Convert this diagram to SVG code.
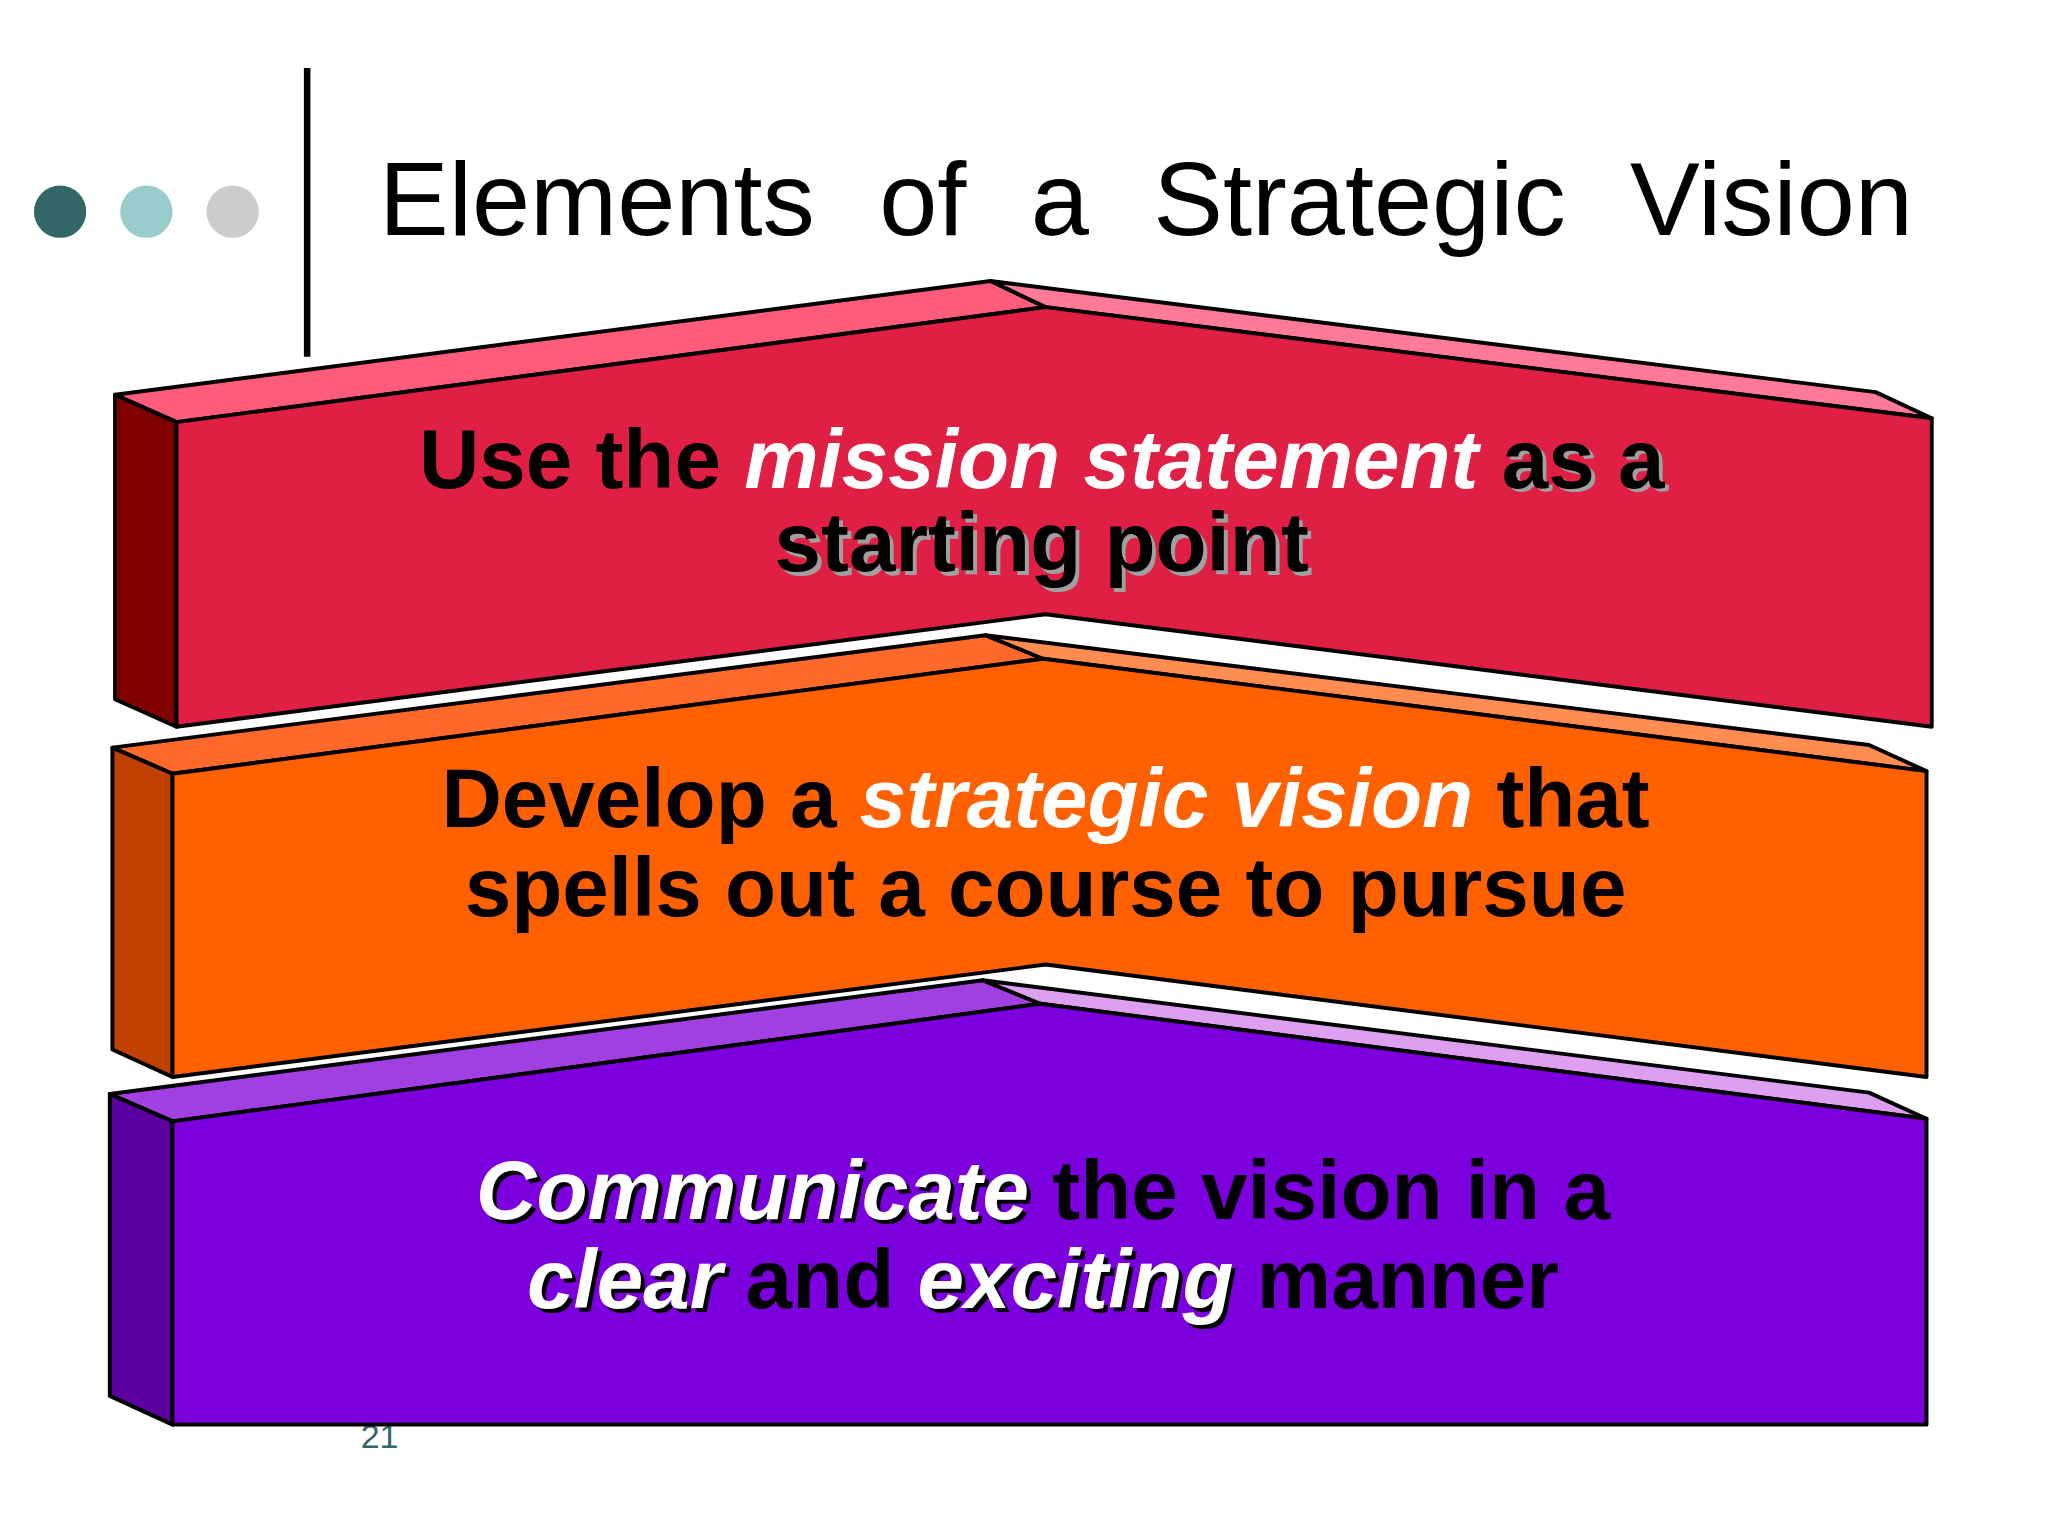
<svg xmlns="http://www.w3.org/2000/svg" width="2048" height="1536" viewBox="0 0 2048 1536">
<style>
.t{font-family:"Liberation Sans",Arial,sans-serif;font-weight:bold;font-size:64px;text-anchor:middle}
.w{fill:#fff;font-style:italic}
.k{fill:#000}
.n{fill:none}
.g{fill:#a0a0a0}
path{stroke:#000;stroke-width:3;stroke-linejoin:round}
</style>
<rect width="2048" height="1536" fill="#fff"/>
<g transform="scale(1.307)">
<g id="header">
<circle cx="46" cy="162" r="20" fill="#336666"/>
<circle cx="112" cy="162" r="20" fill="#99cccc"/>
<circle cx="178" cy="162" r="20" fill="#cccccc"/>
<line x1="235" y1="52" x2="235" y2="273" stroke="#000" stroke-width="5"/>
<text x="290" y="180" font-family="Liberation Sans,Arial,sans-serif" font-size="80" word-spacing="27" fill="#000">Elements of a Strategic Vision</text>
<text x="276" y="1108" font-family="Liberation Sans,Arial,sans-serif" font-size="26" fill="#336666">21</text>
</g>
<g id="red">
<path d="M88,302 L758,215 L800,235 L135,323Z" fill="#ff5c7c"/>
<path d="M758,215 L1435,300 L1478,320 L800,235Z" fill="#ff7a99"/>
<path d="M88,302 L135,323 L135,556 L88,535Z" fill="#800000"/>
<path d="M135,323 L800,235 L1478,320 L1478,556 L800,470 L135,556Z" fill="#e01f45"/>
<text class="t" x="800" y="376"><tspan class="n">Use the </tspan><tspan class="n" font-style="italic">mission statement</tspan><tspan class="g"> as a</tspan></text>
<text class="t" x="800" y="440" fill="#a0a0a0">starting point</text>
<text class="t" x="797" y="373"><tspan class="k">Use the </tspan><tspan class="w">mission statement</tspan><tspan class="k"> as a</tspan></text>
<text class="t" x="797" y="437" fill="#000">starting point</text>
</g>
<g id="orange">
<path d="M86,572 L754,486 L798,504 L132,592Z" fill="#ff6a2a"/>
<path d="M754,486 L1430,570 L1474,590 L798,504Z" fill="#ff8c50"/>
<path d="M86,572 L132,592 L132,824 L86,803Z" fill="#c04000"/>
<path d="M132,592 L798,504 L1474,590 L1474,824 L800,738 L132,824Z" fill="#ff6000"/>
<text class="t" x="800" y="633"><tspan class="k">Develop a </tspan><tspan class="w">strategic vision</tspan><tspan class="k"> that</tspan></text>
<text class="t" x="800" y="701" fill="#000">spells out a course to pursue</text>
</g>
<g id="purple">
<path d="M84,837 L752,750 L796,768 L132,858Z" fill="#a040e0"/>
<path d="M752,750 L1430,836 L1474,856 L796,768Z" fill="#dda0f0"/>
<path d="M84,837 L132,858 L132,1090 L84,1068Z" fill="#5c00a0"/>
<path d="M132,858 L796,768 L1474,856 L1474,1090 L132,1090Z" fill="#7b00dd"/>
<text class="t" x="801" y="936"><tspan class="k" font-style="italic">Communicate</tspan><tspan class="n"> the vision in a</tspan></text>
<text class="t" x="801" y="1004"><tspan class="k" font-style="italic">clear</tspan><tspan class="n"> and </tspan><tspan class="k" font-style="italic">exciting</tspan><tspan class="n"> manner</tspan></text>
<text class="t" x="798" y="933"><tspan class="w">Communicate</tspan><tspan class="k"> the vision in a</tspan></text>
<text class="t" x="798" y="1001"><tspan class="w">clear</tspan><tspan class="k"> and </tspan><tspan class="w">exciting</tspan><tspan class="k"> manner</tspan></text>
</g>
</g>
</svg>
